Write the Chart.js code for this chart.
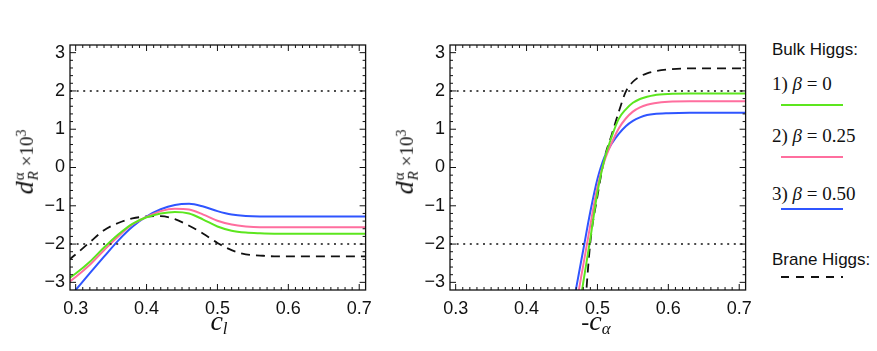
<!DOCTYPE html>
<html>
<head>
<meta charset="utf-8">
<script src="https://cdn.jsdelivr.net/npm/chart.js@4"></script>
<style>
  body { margin: 0; background: #fff; }
  #wrap { position: relative; width: 877px; height: 351px; overflow: hidden; }
  canvas { position: absolute; top: 0; }
  .txt { position: absolute; color: #111; white-space: nowrap; }
  .serif { font-family: "Liberation Serif", "DejaVu Serif", serif; }
  .sans { font-family: "Liberation Sans", Arial, sans-serif; }
  .ytitle { transform: translate(-50%, -50%) rotate(-90deg); }
  .xtitle { transform: translate(-50%, -50%); }
  .ss { display: inline-block; vertical-align: -0.34em; line-height: 0.95; font-size: 15px; margin-left: 1px; }
  .ss span { display: block; }
  .legline { position: absolute; left: 781px; width: 62px; height: 0; }
</style>
</head>
<body>
<div id="wrap">
  <canvas id="left" width="380" height="351" style="left:0px"></canvas>
  <canvas id="right" width="380" height="351" style="left:380px"></canvas>

  <div class="txt serif ytitle" style="left:25px; top:162px;"><i style="font-size:26px">d</i><span class="ss"><span>α</span><span><i>R</i></span></span><span style="font-size:19px">&nbsp;×10<sup style="font-size:14px">3</sup></span></div>
  <div class="txt serif ytitle" style="left:405px; top:162px;"><i style="font-size:26px">d</i><span class="ss"><span>α</span><span><i>R</i></span></span><span style="font-size:19px">&nbsp;×10<sup style="font-size:14px">3</sup></span></div>

  <div class="txt serif xtitle" style="left:219px; top:322px;"><i style="font-size:28px">c</i><sub style="font-size:17px"><i>l</i></sub></div>
  <div class="txt serif xtitle" style="left:596px; top:322px;"><span style="font-size:24px">-</span><i style="font-size:28px">c</i><sub style="font-size:17px"><i>α</i></sub></div>

  <div class="txt sans" style="left:772px; top:40px; font-size:17px;">Bulk Higgs:</div>
  <div class="txt serif" style="left:772px; top:73px; font-size:19px;">1) <i>β</i> = 0</div>
  <div class="legline" style="top:104px; border-top:2px solid #5ce61e;"></div>
  <div class="txt serif" style="left:772px; top:125px; font-size:19px;">2) <i>β</i> = 0.25</div>
  <div class="legline" style="top:156px; border-top:2px solid #ff6e9e;"></div>
  <div class="txt serif" style="left:772px; top:183px; font-size:19px;">3) <i>β</i> = 0.50</div>
  <div class="legline" style="top:208px; border-top:2px solid #2f55ff;"></div>
  <div class="txt sans" style="left:772px; top:250px; font-size:17px;">Brane Higgs:</div>
  <div class="legline" style="top:276px; height:2px; background:repeating-linear-gradient(90deg,#111 0 8px,transparent 8px 15px);"></div>
</div>

<script>
// left panel: d_R^alpha x 10^3 against c_l
const xLeft = [0.29, 0.30, 0.32, 0.34, 0.36, 0.38, 0.40, 0.42, 0.44, 0.46, 0.48, 0.50, 0.52, 0.54, 0.56, 0.58, 0.60, 0.65, 0.71];
const beta0Left = [-2.90, -2.77, -2.46, -2.09, -1.75, -1.47, -1.30, -1.20, -1.16, -1.20, -1.36, -1.54, -1.65, -1.70, -1.72, -1.73, -1.73, -1.73, -1.73];
const beta25Left = [-3.00, -2.86, -2.54, -2.16, -1.80, -1.49, -1.29, -1.14, -1.08, -1.10, -1.23, -1.39, -1.49, -1.54, -1.56, -1.56, -1.56, -1.56, -1.56];
const beta50Left = [-3.42, -3.20, -2.76, -2.33, -1.91, -1.55, -1.28, -1.09, -0.98, -0.95, -1.02, -1.14, -1.23, -1.27, -1.28, -1.28, -1.28, -1.28, -1.28];
const braneLeft = [-2.42, -2.27, -1.95, -1.64, -1.45, -1.33, -1.28, -1.27, -1.35, -1.52, -1.73, -1.97, -2.16, -2.27, -2.30, -2.32, -2.32, -2.32, -2.32];

// right panel: against -c_alpha
const xRight = [0.46, 0.47, 0.48, 0.49, 0.50, 0.51, 0.52, 0.53, 0.54, 0.55, 0.56, 0.57, 0.58, 0.60, 0.63, 0.67, 0.71];
const beta0Right = [-5.4, -4.2, -3.0, -1.85, -0.65, 0.22, 0.80, 1.27, 1.52, 1.69, 1.79, 1.85, 1.89, 1.92, 1.93, 1.93, 1.93];
const beta25Right = [-4.7, -3.6, -2.55, -1.5, -0.5, 0.18, 0.64, 1.02, 1.28, 1.46, 1.57, 1.64, 1.68, 1.72, 1.73, 1.73, 1.73];
const beta50Right = [-4.2, -3.15, -2.15, -1.15, -0.3, 0.28, 0.62, 0.88, 1.08, 1.22, 1.31, 1.37, 1.40, 1.42, 1.43, 1.43, 1.43];
const braneRight = [-9.0, -6.6, -4.3, -1.95, -0.75, 0.25, 0.85, 1.45, 1.98, 2.24, 2.38, 2.46, 2.51, 2.56, 2.59, 2.59, 2.59];

const limitLines = [2, -2];
const xTicks = [0.3, 0.4, 0.5, 0.6, 0.7];
const yTicks = [-3, -2, -1, 0, 1, 2, 3];
const xRange = [0.292, 0.709];
const yRange = [-3.2, 3.2];

const GREEN = '#5ce61e', PINK = '#ff6e9e', BLUE = '#2f55ff', INK = '#111';

Chart.defaults.font.family = '"Liberation Sans", Arial, sans-serif';
Chart.defaults.color = INK;

function pts(xs, ys) {
  return xs.map((x, i) => ({x: x, y: ys[i]}));
}

// box with inward ticks on all four sides
const framePlugin = {
  id: 'frame',
  afterDatasetsDraw(chart) {
    const ctx = chart.ctx, a = chart.chartArea;
    const xs = chart.scales.x, ys = chart.scales.y;
    ctx.save();
    ctx.strokeStyle = INK;
    ctx.lineWidth = 1.3;
    ctx.strokeRect(a.left, a.top, a.right - a.left, a.bottom - a.top);
    ctx.beginPath();
    for (let k = 29; k <= 71; k++) {
      const v = k / 100;
      const px = xs.getPixelForValue(v);
      if (px < a.left + 1 || px > a.right - 1) continue;
      const len = k % 10 === 0 ? 6 : 3;
      ctx.moveTo(px, a.bottom); ctx.lineTo(px, a.bottom - len);
      ctx.moveTo(px, a.top); ctx.lineTo(px, a.top + len);
    }
    for (let k = -16; k <= 16; k++) {
      const v = k / 5;
      const py = ys.getPixelForValue(v);
      if (py < a.top + 1 || py > a.bottom - 1) continue;
      const len = k % 5 === 0 ? 6 : 3;
      ctx.moveTo(a.left, py); ctx.lineTo(a.left + len, py);
      ctx.moveTo(a.right, py); ctx.lineTo(a.right - len, py);
    }
    ctx.lineWidth = 1;
    ctx.stroke();
    ctx.restore();
  }
};

function makeChart(id, xs, series) {
  const curves = [
    {data: pts(xs, series[0]), borderColor: GREEN, borderWidth: 2},
    {data: pts(xs, series[1]), borderColor: PINK, borderWidth: 2},
    {data: pts(xs, series[2]), borderColor: BLUE, borderWidth: 2},
    {data: pts(xs, series[3]), borderColor: INK, borderWidth: 1.8, borderDash: [9, 6]}
  ];
  const limits = limitLines.map(v => ({
    data: [{x: xRange[0], y: v}, {x: xRange[1], y: v}],
    borderColor: INK, borderWidth: 1.6, borderDash: [2, 4.6]
  }));
  return new Chart(document.getElementById(id), {
    type: 'line',
    data: {datasets: limits.concat(curves).map(d => Object.assign({
      pointRadius: 0, fill: false, cubicInterpolationMode: 'monotone'
    }, d))},
    options: {
      responsive: false,
      animation: false,
      devicePixelRatio: 1,
      layout: {padding: {top: 45, right: 12, left: 0, bottom: 0}},
      plugins: {legend: {display: false}, tooltip: {enabled: false}},
      scales: {
        x: {
          type: 'linear',
          min: xRange[0], max: xRange[1],
          grid: {display: false, drawTicks: false},
          border: {display: false},
          afterBuildTicks: s => { s.ticks = xTicks.map(v => ({value: v})); },
          afterFit: s => { s.height = 61; },
          ticks: {font: {size: 18}, padding: 8, maxRotation: 0,
                  callback: v => v.toFixed(1)}
        },
        y: {
          type: 'linear',
          min: yRange[0], max: yRange[1],
          grid: {display: false, drawTicks: false},
          border: {display: false},
          afterBuildTicks: s => { s.ticks = yTicks.map(v => ({value: v})); },
          afterFit: s => { s.width = 70; },
          ticks: {font: {size: 18}, padding: 5,
                  callback: v => String(v).replace('-', '\u2212')}
        }
      }
    },
    plugins: [framePlugin]
  });
}

makeChart('left', xLeft, [beta0Left, beta25Left, beta50Left, braneLeft]);
makeChart('right', xRight, [beta0Right, beta25Right, beta50Right, braneRight]);
</script>
</body>
</html>
